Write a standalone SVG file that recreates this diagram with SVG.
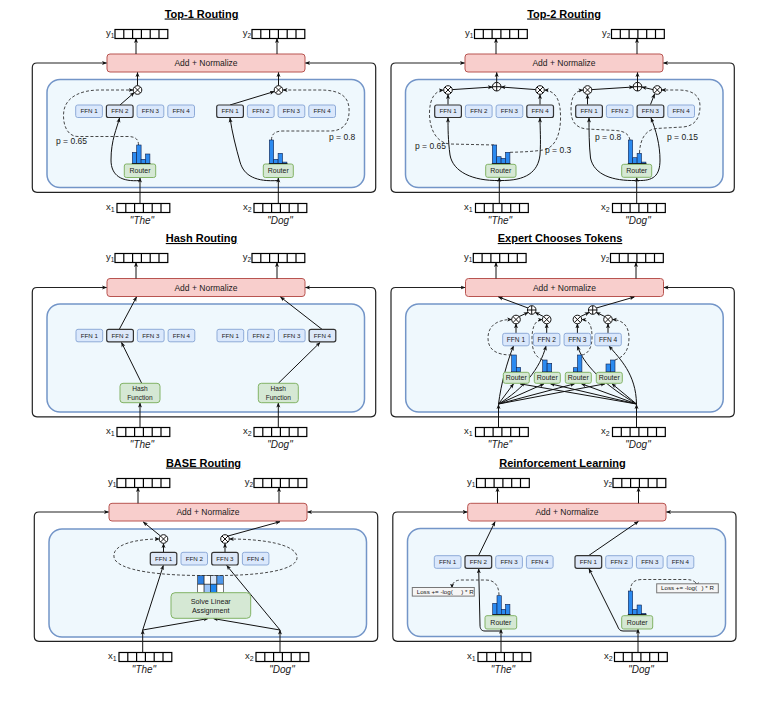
<svg xmlns="http://www.w3.org/2000/svg" xmlns:xlink="http://www.w3.org/1999/xlink" width="775" height="702" viewBox="0 0 775 702">
<style>
.tx{font-family:"Liberation Sans",Arial,sans-serif;fill:#1a1a1a}
.ttl{font-size:11px;font-weight:bold;text-decoration:underline;text-anchor:middle;fill:#000}
.an{font-size:8.5px;text-anchor:middle}
.f{font-size:6.2px;text-anchor:middle}
.r{font-size:7px;text-anchor:middle}
.p{font-size:8.5px}
.lb{font-size:9.5px}
.q{font-size:10px;font-style:italic;text-anchor:middle}
.ls{font-size:6.2px}
.anr{fill:#f8cecc;stroke:#b85450;stroke-width:1}
.inner{fill:#eff8fd;stroke:#7395c8;stroke-width:1.5}
.ffn{fill:#dae8fc;stroke:#8eabd8;stroke-width:1}
.ffs{fill:#dde8f8;stroke:#333;stroke-width:1.2}
.rt{fill:#d5e8d4;stroke:#82b366;stroke-width:1}
.loss{fill:#f5f5f5;stroke:#777;stroke-width:1}
.c{fill:none;stroke:#111;stroke-width:1}
.d{fill:none;stroke:#333;stroke-width:0.9;stroke-dasharray:3 2}
.loop{fill:none;stroke:#222;stroke-width:1.2}
.bar{fill:#2b8af0;stroke:#10204a;stroke-width:0.6}
.base{stroke:#111;stroke-width:0.8}
</style>
<defs>
<marker id="ah" viewBox="0 0 10 10" refX="9" refY="5" markerWidth="5" markerHeight="5" markerUnits="userSpaceOnUse" orient="auto"><path d="M0,1L10,5L0,9L2.5,5z" fill="#111"/></marker>
<g id="vec"><rect width="52.8" height="9" fill="#fff" stroke="#000" stroke-width="1.2"/><path d="M8.8,0v9M17.6,0v9M26.4,0v9M35.2,0v9M44,0v9" stroke="#000" stroke-width="1.2"/></g>
<g id="ot"><circle r="4.3" fill="#fff" stroke="#111" stroke-width="1"/><path d="M-3,-3L3,3M-3,3L3,-3" stroke="#111" stroke-width="1"/></g>
<g id="opl"><circle r="4.3" fill="#fff" stroke="#111" stroke-width="1"/><path d="M-4.3,0H4.3M0,-4.3V4.3" stroke="#111" stroke-width="1"/></g>
</defs>
<rect width="775" height="702" fill="#fff"/>

<!-- ============ Panel 1: Top-1 Routing ============ -->
<g id="p1" transform="translate(0,0)">
<g id="p1-title"><text class="tx ttl" x="201.5" y="17.5">Top-1 Routing</text></g>
<g id="p1-y1"><text class="tx lb" x="106" y="36">y<tspan font-size="6.5" dy="1.5">1</tspan></text><use href="#vec" x="115" y="29.5"/></g>
<g id="p1-y2"><text class="tx lb" x="242.7" y="36">y<tspan font-size="6.5" dy="1.5">2</tspan></text><use href="#vec" x="252" y="29.5"/></g>
<g id="p1-addnorm"><rect class="anr" x="107" y="54" width="198" height="18" rx="3"/><text class="tx an" x="206" y="66">Add + Normalize</text></g>
<g id="p1-moe"><rect class="inner" x="47" y="79.5" width="317.5" height="108" rx="13"/></g>
<g id="p1-x1"><text class="tx lb" x="106" y="210">x<tspan font-size="7" dy="2">1</tspan></text><use href="#vec" x="117" y="203.5"/><text class="tx q" x="142" y="224">"The"</text></g>
<g id="p1-x2"><text class="tx lb" x="243" y="210">x<tspan font-size="7" dy="2">2</tspan></text><use href="#vec" x="254" y="203.5"/><text class="tx q" x="280" y="224">"Dog"</text></g>
<g id="p1-connectors">
<path class="loop" d="M140,192.3H37Q32.3,192.3 32.3,187.6V67.7Q32.3,63 37,63H106.5" marker-end="url(#ah)"/>
<path class="loop" d="M278,192.3H371Q375.7,192.3 375.7,187.6V67.7Q375.7,63 371,63H305.5" marker-end="url(#ah)"/>
<path class="loop" d="M140,192.3H278"/>
<path class="c" d="M136,54V38.5" marker-end="url(#ah)"/>
<path class="c" d="M277,54V38.5" marker-end="url(#ah)"/>
<path class="c" d="M137.5,85.7V72.5" marker-end="url(#ah)"/>
<path class="c" d="M278.5,85.7V72.5" marker-end="url(#ah)"/>
<path class="c" d="M120,105L134.2,92.6" marker-end="url(#ah)"/>
<path class="c" d="M230,105L274.3,91.5" marker-end="url(#ah)"/>
<path class="c" d="M140,203.5V178" marker-end="url(#ah)"/>
<path class="c" d="M278.3,203.5V178" marker-end="url(#ah)"/>
<path class="c" d="M140,180.5C122,182 111,176 111,160C111,140 117,128 119.5,118" marker-end="url(#ah)"/>
<path class="c" d="M278.3,180.5C256,182 244,176 240,162C236,148 232,132 230,118" marker-end="url(#ah)"/>
<path class="d" d="M138.5,145C138.5,139 135,136.5 128,136.5L78,136.5C66,136.5 62,122 64,110C67,96 82,90 100,90L133,90" marker-end="url(#ah)"/>
<path class="d" d="M271.5,140C271.5,134 275,131 283,131L330,131C344,131 350,122 349,108C348,95 338,90 320,90L283,90" marker-end="url(#ah)"/>
</g>
<g id="p1-ffnL1"><rect class="ffn" x="75.7" y="105" width="26.7" height="12.5" rx="2"/><text class="tx f" x="89.05" y="113.4">FFN 1</text></g>
<g id="p1-ffnL2"><rect class="ffs" x="106.4" y="105" width="26.7" height="12.5" rx="2"/><text class="tx f" x="119.75" y="113.4">FFN 2</text></g>
<g id="p1-ffnL3"><rect class="ffn" x="137.1" y="105" width="26.7" height="12.5" rx="2"/><text class="tx f" x="150.45" y="113.4">FFN 3</text></g>
<g id="p1-ffnL4"><rect class="ffn" x="167.8" y="105" width="26.7" height="12.5" rx="2"/><text class="tx f" x="181.15" y="113.4">FFN 4</text></g>
<g id="p1-ffnR1"><rect class="ffs" x="216.7" y="105" width="26.7" height="12.5" rx="2"/><text class="tx f" x="230.05" y="113.4">FFN 1</text></g>
<g id="p1-ffnR2"><rect class="ffn" x="247.4" y="105" width="26.7" height="12.5" rx="2"/><text class="tx f" x="260.75" y="113.4">FFN 2</text></g>
<g id="p1-ffnR3"><rect class="ffn" x="278.1" y="105" width="26.7" height="12.5" rx="2"/><text class="tx f" x="291.45" y="113.4">FFN 3</text></g>
<g id="p1-ffnR4"><rect class="ffn" x="308.8" y="105" width="26.7" height="12.5" rx="2"/><text class="tx f" x="322.15" y="113.4">FFN 4</text></g>
<g id="p1-mulL"><use href="#ot" x="137.5" y="90"/></g>
<g id="p1-mulR"><use href="#ot" x="278.5" y="90"/></g>
<g id="p1-routerL"><rect class="rt" x="124.3" y="164" width="31.4" height="13.5" rx="2"/><text class="tx r" x="140" y="173.3">Router</text></g>
<g id="p1-routerR"><rect class="rt" x="263.3" y="164" width="30" height="13.5" rx="2"/><text class="tx r" x="278.3" y="173.3">Router</text></g>
<g id="p1-histL"><rect class="bar" x="132.3" y="152.3" width="4.4" height="11"/><rect class="bar" x="136.7" y="145" width="4.4" height="18.3"/><rect class="bar" x="141.1" y="159.3" width="4.4" height="4"/><rect class="bar" x="145.5" y="154" width="4.4" height="9.3"/><path class="base" d="M131.8,163.5H150.5"/></g>
<g id="p1-histR"><rect class="bar" x="269.3" y="140" width="4.4" height="23.3"/><rect class="bar" x="273.7" y="159.3" width="4.4" height="4"/><rect class="bar" x="278.1" y="153.3" width="4.4" height="10"/><rect class="bar" x="282.5" y="162.1" width="4.4" height="1.2"/><path class="base" d="M268.8,163.5H287.5"/></g>
<g id="p1-pL"><text class="tx p" x="56" y="144">p = 0.65</text></g>
<g id="p1-pR"><text class="tx p" x="329" y="139.5">p = 0.8</text></g>
</g>

<!-- ============ Panel 2: Top-2 Routing ============ -->
<g id="p2" transform="translate(358,0)">
<g id="p2-title"><text class="tx ttl" x="206" y="17.5">Top-2 Routing</text></g>
<g id="p2-y1"><text class="tx lb" x="107" y="36">y<tspan font-size="6.5" dy="1.5">1</tspan></text><use href="#vec" x="116.5" y="29.5"/></g>
<g id="p2-y2"><text class="tx lb" x="244" y="36">y<tspan font-size="6.5" dy="1.5">2</tspan></text><use href="#vec" x="253.5" y="29.5"/></g>
<g id="p2-addnorm"><rect class="anr" x="107" y="54" width="198" height="18" rx="3"/><text class="tx an" x="206" y="66">Add + Normalize</text></g>
<g id="p2-moe"><rect class="inner" x="47.5" y="79.5" width="317.5" height="108" rx="13"/></g>
<g id="p2-x1"><text class="tx lb" x="106" y="210">x<tspan font-size="7" dy="2">1</tspan></text><use href="#vec" x="117.5" y="203.5"/><text class="tx q" x="142" y="224">"The"</text></g>
<g id="p2-x2"><text class="tx lb" x="243" y="210">x<tspan font-size="7" dy="2">2</tspan></text><use href="#vec" x="254.5" y="203.5"/><text class="tx q" x="280" y="224">"Dog"</text></g>
<g id="p2-connectors">
<path class="loop" d="M141.3,192.3H37.7Q33,192.3 33,187.6V67.7Q33,63 37.7,63H106.5" marker-end="url(#ah)"/>
<path class="loop" d="M278.7,192.3H371.6Q376.3,192.3 376.3,187.6V67.7Q376.3,63 371.6,63H305.5" marker-end="url(#ah)"/>
<path class="loop" d="M141.3,192.3H278.7"/>
<path class="c" d="M138,54V38.5" marker-end="url(#ah)"/>
<path class="c" d="M279,54V38.5" marker-end="url(#ah)"/>
<path class="c" d="M90,104.5V94.5" marker-end="url(#ah)"/>
<path class="c" d="M182,104.5V94.5" marker-end="url(#ah)"/>
<path class="c" d="M94.3,89.6L134.4,87" marker-end="url(#ah)"/>
<path class="c" d="M177.7,89.6L143,87" marker-end="url(#ah)"/>
<path class="c" d="M138.7,82.4V72.5" marker-end="url(#ah)"/>
<path class="c" d="M229.5,104.5V94.5" marker-end="url(#ah)"/>
<path class="c" d="M292.5,104.5L296.6,94" marker-end="url(#ah)"/>
<path class="c" d="M233.8,89.6L275.4,87" marker-end="url(#ah)"/>
<path class="c" d="M295,89.6L284,87" marker-end="url(#ah)"/>
<path class="c" d="M279.5,82.4V72.5" marker-end="url(#ah)"/>
<path class="c" d="M141.3,203.5V177.5" marker-end="url(#ah)"/>
<path class="c" d="M278.7,203.5V177.5" marker-end="url(#ah)"/>
<path class="c" d="M141,180.5C115,181 95,172 92,155C90,140 90,128 90,118" marker-end="url(#ah)"/>
<path class="c" d="M142,180.5C168,181 180,172 182,155C183,140 182,128 182,118" marker-end="url(#ah)"/>
<path class="c" d="M277.5,180.5C255,181 236,175 232.5,158C231,145 231,130 231,118" marker-end="url(#ah)"/>
<path class="c" d="M280,180.5C295,181 302,176 302,160C302,145 298,130 293,118" marker-end="url(#ah)"/>
<path class="d" d="M136,145L92,144C78,143 71,128 71.5,112C72,98 77,91 85.5,90" marker-end="url(#ah)"/>
<path class="d" d="M152,152.3C165,152 175,151.5 185,150C197,148 202,135 202.5,120C203,102 199,91 186.3,90" marker-end="url(#ah)"/>
<path class="d" d="M272,140C271,134 266,131 258,130.5L229,129C218,128 213,122 213,110C213,98 216,91 225,90" marker-end="url(#ah)"/>
<path class="d" d="M281.5,153C282,140 287,130 298,128.5L325,127C337,126 342,118 342,106C342,95 334,90 320,90L303.6,90" marker-end="url(#ah)"/>
</g>
<g id="p2-ffnL1"><rect class="ffs" x="76.7" y="105" width="26.7" height="12.5" rx="2"/><text class="tx f" x="90.05" y="113.4">FFN 1</text></g>
<g id="p2-ffnL2"><rect class="ffn" x="107.4" y="105" width="26.7" height="12.5" rx="2"/><text class="tx f" x="120.75" y="113.4">FFN 2</text></g>
<g id="p2-ffnL3"><rect class="ffn" x="138.1" y="105" width="26.7" height="12.5" rx="2"/><text class="tx f" x="151.45" y="113.4">FFN 3</text></g>
<g id="p2-ffnL4"><rect class="ffs" x="168.8" y="105" width="26.7" height="12.5" rx="2"/><text class="tx f" x="182.15" y="113.4">FFN 4</text></g>
<g id="p2-ffnR1"><rect class="ffs" x="217.7" y="105" width="26.7" height="12.5" rx="2"/><text class="tx f" x="231.05" y="113.4">FFN 1</text></g>
<g id="p2-ffnR2"><rect class="ffn" x="248.4" y="105" width="26.7" height="12.5" rx="2"/><text class="tx f" x="261.75" y="113.4">FFN 2</text></g>
<g id="p2-ffnR3"><rect class="ffs" x="279.1" y="105" width="26.7" height="12.5" rx="2"/><text class="tx f" x="292.45" y="113.4">FFN 3</text></g>
<g id="p2-ffnR4"><rect class="ffn" x="309.8" y="105" width="26.7" height="12.5" rx="2"/><text class="tx f" x="323.15" y="113.4">FFN 4</text></g>
<g id="p2-mulL1"><use href="#ot" x="90" y="90"/></g>
<g id="p2-mulL2"><use href="#ot" x="182" y="90"/></g>
<g id="p2-sumL"><use href="#opl" x="138.7" y="86.7"/></g>
<g id="p2-mulR1"><use href="#ot" x="229.5" y="90"/></g>
<g id="p2-mulR2"><use href="#ot" x="299.3" y="90"/></g>
<g id="p2-sumR"><use href="#opl" x="279.5" y="86.7"/></g>
<g id="p2-routerL"><rect class="rt" x="127.7" y="164.3" width="30.3" height="13" rx="2"/><text class="tx r" x="142.8" y="173.3">Router</text></g>
<g id="p2-routerR"><rect class="rt" x="263.7" y="164.3" width="30" height="13" rx="2"/><text class="tx r" x="278.7" y="173.3">Router</text></g>
<g id="p2-histL"><rect class="bar" x="134.3" y="145" width="4.4" height="18.3"/><rect class="bar" x="138.7" y="156.7" width="4.4" height="6.6"/><rect class="bar" x="143.1" y="158.3" width="4.4" height="5"/><rect class="bar" x="147.5" y="152.3" width="4.4" height="11"/><path class="base" d="M133.8,163.5H152.5"/></g>
<g id="p2-histR"><rect class="bar" x="270.3" y="140" width="4.4" height="23.3"/><rect class="bar" x="274.7" y="157.7" width="4.4" height="5.6"/><rect class="bar" x="279.1" y="153.3" width="4.4" height="10"/><rect class="bar" x="283.5" y="162.1" width="4.4" height="1.2"/><path class="base" d="M269.8,163.5H288.5"/></g>
<g id="p2-pL1"><text class="tx p" x="57" y="148.5">p = 0.65</text></g>
<g id="p2-pL2"><text class="tx p" x="187" y="153">p = 0.3</text></g>
<g id="p2-pR1"><text class="tx p" x="237" y="139.5">p = 0.8</text></g>
<g id="p2-pR2"><text class="tx p" x="309" y="139.5">p = 0.15</text></g>
</g>

<!-- ============ Panel 3: Hash Routing ============ -->
<g id="p3" transform="translate(0,224)">
<g id="p3-title"><text class="tx ttl" x="201.5" y="18">Hash Routing</text></g>
<g id="p3-y1"><text class="tx lb" x="106" y="36">y<tspan font-size="6.5" dy="1.5">1</tspan></text><use href="#vec" x="115" y="29.5"/></g>
<g id="p3-y2"><text class="tx lb" x="242.7" y="36">y<tspan font-size="6.5" dy="1.5">2</tspan></text><use href="#vec" x="252" y="29.5"/></g>
<g id="p3-addnorm"><rect class="anr" x="107" y="54.5" width="198" height="18" rx="3"/><text class="tx an" x="206" y="66.5">Add + Normalize</text></g>
<g id="p3-moe"><rect class="inner" x="47" y="80" width="317.5" height="108" rx="13"/></g>
<g id="p3-x1"><text class="tx lb" x="106" y="210">x<tspan font-size="7" dy="2">1</tspan></text><use href="#vec" x="117" y="203.5"/><text class="tx q" x="142" y="224">"The"</text></g>
<g id="p3-x2"><text class="tx lb" x="243" y="210">x<tspan font-size="7" dy="2">2</tspan></text><use href="#vec" x="254" y="203.5"/><text class="tx q" x="280" y="224">"Dog"</text></g>
<g id="p3-connectors">
<path class="loop" d="M140,192.8H37Q32.3,192.8 32.3,188.1V68.2Q32.3,63.5 37,63.5H106.5" marker-end="url(#ah)"/>
<path class="loop" d="M278.3,192.8H371Q375.7,192.8 375.7,188.1V68.2Q375.7,63.5 371,63.5H305.5" marker-end="url(#ah)"/>
<path class="loop" d="M140,192.8H278.3"/>
<path class="c" d="M136,54.5V38.5" marker-end="url(#ah)"/>
<path class="c" d="M277,54.5V38.5" marker-end="url(#ah)"/>
<path class="c" d="M140,203.5V179" marker-end="url(#ah)"/>
<path class="c" d="M278.3,203.5V179" marker-end="url(#ah)"/>
<path class="c" d="M141.7,159.3L121.5,118.5" marker-end="url(#ah)"/>
<path class="c" d="M278.3,159.3L320,118.5" marker-end="url(#ah)"/>
<path class="c" d="M119.3,105.3L136.5,73" marker-end="url(#ah)"/>
<path class="c" d="M322,105.3L280.5,73" marker-end="url(#ah)"/>
</g>
<g id="p3-ffnL1"><rect class="ffn" x="76" y="105.3" width="26.7" height="12.5" rx="2"/><text class="tx f" x="89.35" y="113.7">FFN 1</text></g>
<g id="p3-ffnL2"><rect class="ffs" x="106.7" y="105.3" width="26.7" height="12.5" rx="2"/><text class="tx f" x="120.05" y="113.7">FFN 2</text></g>
<g id="p3-ffnL3"><rect class="ffn" x="137.4" y="105.3" width="26.7" height="12.5" rx="2"/><text class="tx f" x="150.75" y="113.7">FFN 3</text></g>
<g id="p3-ffnL4"><rect class="ffn" x="168.1" y="105.3" width="26.7" height="12.5" rx="2"/><text class="tx f" x="181.45" y="113.7">FFN 4</text></g>
<g id="p3-ffnR1"><rect class="ffn" x="217" y="105.3" width="26.7" height="12.5" rx="2"/><text class="tx f" x="230.35" y="113.7">FFN 1</text></g>
<g id="p3-ffnR2"><rect class="ffn" x="247.7" y="105.3" width="26.7" height="12.5" rx="2"/><text class="tx f" x="261.05" y="113.7">FFN 2</text></g>
<g id="p3-ffnR3"><rect class="ffn" x="278.4" y="105.3" width="26.7" height="12.5" rx="2"/><text class="tx f" x="291.75" y="113.7">FFN 3</text></g>
<g id="p3-ffnR4"><rect class="ffs" x="309.1" y="105.3" width="26.7" height="12.5" rx="2"/><text class="tx f" x="322.45" y="113.7">FFN 4</text></g>
<g id="p3-hashL"><rect class="rt" x="120" y="159.3" width="40" height="19.4" rx="3"/><text class="tx r" x="140" y="166.7" style="font-size:6.6px">Hash</text><text class="tx r" x="140" y="175.6" style="font-size:6.6px">Function</text></g>
<g id="p3-hashR"><rect class="rt" x="258.3" y="159.3" width="40" height="19.4" rx="3"/><text class="tx r" x="278.3" y="166.7" style="font-size:6.6px">Hash</text><text class="tx r" x="278.3" y="175.6" style="font-size:6.6px">Function</text></g>
</g>

<!-- ============ Panel 4: Expert Chooses Tokens ============ -->
<g id="p4" transform="translate(358,224)">
<g id="p4-title"><text class="tx ttl" x="202" y="18">Expert Chooses Tokens</text></g>
<g id="p4-y1"><text class="tx lb" x="106" y="36">y<tspan font-size="6.5" dy="1.5">1</tspan></text><use href="#vec" x="115.3" y="29.5"/></g>
<g id="p4-y2"><text class="tx lb" x="243" y="36">y<tspan font-size="6.5" dy="1.5">2</tspan></text><use href="#vec" x="252.5" y="29.5"/></g>
<g id="p4-addnorm"><rect class="anr" x="107.5" y="54.5" width="198" height="18" rx="3"/><text class="tx an" x="206.5" y="66.5">Add + Normalize</text></g>
<g id="p4-moe"><rect class="inner" x="47.7" y="80" width="317.5" height="108" rx="13"/></g>
<g id="p4-x1"><text class="tx lb" x="106" y="210">x<tspan font-size="7" dy="2">1</tspan></text><use href="#vec" x="117.5" y="203.5"/><text class="tx q" x="142" y="224">"The"</text></g>
<g id="p4-x2"><text class="tx lb" x="243" y="210">x<tspan font-size="7" dy="2">2</tspan></text><use href="#vec" x="254.5" y="203.5"/><text class="tx q" x="280" y="224">"Dog"</text></g>
<g id="p4-connectors">
<path class="loop" d="M140.5,192.8H37.7Q33,192.8 33,188.1V68.2Q33,63.5 37.7,63.5H107" marker-end="url(#ah)"/>
<path class="loop" d="M278.5,192.8H371.6Q376.3,192.8 376.3,188.1V68.2Q376.3,63.5 371.6,63.5H306" marker-end="url(#ah)"/>
<path class="loop" d="M140.5,192.8H278.5"/>
<path class="c" d="M138,54.5V38.5" marker-end="url(#ah)"/>
<path class="c" d="M278,54.5V38.5" marker-end="url(#ah)"/>
<path class="c" d="M158,109.3V99.8" marker-end="url(#ah)"/>
<path class="c" d="M188.7,109.3V99.8" marker-end="url(#ah)"/>
<path class="c" d="M219.4,109.3V99.8" marker-end="url(#ah)"/>
<path class="c" d="M250,109.3V99.8" marker-end="url(#ah)"/>
<path class="c" d="M161,92.6L170.2,88.4" marker-end="url(#ah)"/>
<path class="c" d="M185.7,92.6L177.2,88.4" marker-end="url(#ah)"/>
<path class="c" d="M222.4,92.6L231.2,88.4" marker-end="url(#ah)"/>
<path class="c" d="M247,92.6L238.2,88.4" marker-end="url(#ah)"/>
<path class="c" d="M170,84L140.5,73" marker-end="url(#ah)"/>
<path class="c" d="M238.4,84L276.3,73" marker-end="url(#ah)"/>
<path class="c" d="M140.5,203.5V180.5" marker-end="url(#ah)"/>
<path class="c" d="M278.5,203.5V180.5" marker-end="url(#ah)"/>
<path class="c" d="M140.5,180L155.5,159.8" marker-end="url(#ah)"/>
<path class="c" d="M140.5,180L186,159.8" marker-end="url(#ah)"/>
<path class="c" d="M140.5,180L216.5,159.8" marker-end="url(#ah)"/>
<path class="c" d="M140.5,180L247,159.8" marker-end="url(#ah)"/>
<path class="c" d="M278.5,180L162,159.8" marker-end="url(#ah)"/>
<path class="c" d="M278.5,180L192.5,159.8" marker-end="url(#ah)"/>
<path class="c" d="M278.5,180L223.5,159.8" marker-end="url(#ah)"/>
<path class="c" d="M278.5,180L254,159.8" marker-end="url(#ah)"/>
<path class="c" d="M140.5,180C143,160 149,138 155.5,122" marker-end="url(#ah)"/>
<path class="c" d="M140.5,180C165,165 182,145 188,122" marker-end="url(#ah)"/>
<path class="c" d="M278.5,180C245,160 225,140 219.5,122" marker-end="url(#ah)"/>
<path class="c" d="M278.5,180C278,150 262,135 251,122" marker-end="url(#ah)"/>
<path class="d" d="M153.7,131C140,131 130,127 130,114C130,101 140,95.5 153.7,95.5" marker-end="url(#ah)"/>
<path class="d" d="M184.7,136C177,133 174,126 174,115C174,103 177,96 184.4,95.5" marker-end="url(#ah)"/>
<path class="d" d="M224,131C230,130 234,124 234,113C234,101 231,96 223.7,95.5" marker-end="url(#ah)"/>
<path class="d" d="M257,136C266,133 271,126 271,114C271,102 265,96 254.3,95.5" marker-end="url(#ah)"/>
</g>
<g id="p4-ffn1"><rect class="ffn" x="144.7" y="109.3" width="26.5" height="12.5" rx="2"/><text class="tx f" x="157.95" y="117.9" style="font-size:6.6px">FFN 1</text></g>
<g id="p4-ffn2"><rect class="ffn" x="175.4" y="109.3" width="26.5" height="12.5" rx="2"/><text class="tx f" x="188.65" y="117.9" style="font-size:6.6px">FFN 2</text></g>
<g id="p4-ffn3"><rect class="ffn" x="206.1" y="109.3" width="26.5" height="12.5" rx="2"/><text class="tx f" x="219.35" y="117.9" style="font-size:6.6px">FFN 3</text></g>
<g id="p4-ffn4"><rect class="ffn" x="236.8" y="109.3" width="26.5" height="12.5" rx="2"/><text class="tx f" x="250.05" y="117.9" style="font-size:6.6px">FFN 4</text></g>
<g id="p4-mul1"><use href="#ot" x="158" y="95.5"/></g>
<g id="p4-mul2"><use href="#ot" x="188.7" y="95.5"/></g>
<g id="p4-mul3"><use href="#ot" x="219.4" y="95.5"/></g>
<g id="p4-mul4"><use href="#ot" x="250" y="95.5"/></g>
<g id="p4-sumL"><use href="#opl" x="173.7" y="86"/></g>
<g id="p4-sumR"><use href="#opl" x="234.7" y="86"/></g>
<g id="p4-router1"><rect class="rt" x="145.3" y="148.3" width="26" height="11" rx="2"/><text class="tx r" x="158.3" y="156.4">Router</text></g>
<g id="p4-router2"><rect class="rt" x="176.3" y="148.3" width="26" height="11" rx="2"/><text class="tx r" x="189.3" y="156.4">Router</text></g>
<g id="p4-router3"><rect class="rt" x="207.3" y="148.3" width="26" height="11" rx="2"/><text class="tx r" x="220.3" y="156.4">Router</text></g>
<g id="p4-router4"><rect class="rt" x="238.3" y="148.3" width="26" height="11" rx="2"/><text class="tx r" x="251.3" y="156.4">Router</text></g>
<g id="p4-hist1"><rect class="bar" x="153.7" y="131" width="4.6" height="16.7"/><rect class="bar" x="158.3" y="143.3" width="4.4" height="4.4"/></g>
<g id="p4-hist2"><rect class="bar" x="184.7" y="136" width="4.4" height="11.7"/><rect class="bar" x="189.1" y="139.3" width="4.6" height="8.4"/></g>
<g id="p4-hist3"><rect class="bar" x="215.3" y="143.7" width="4.2" height="4"/><rect class="bar" x="219.5" y="131" width="4.4" height="16.7"/></g>
<g id="p4-hist4"><rect class="bar" x="248" y="140" width="4.6" height="7.7"/><rect class="bar" x="252.6" y="136" width="4.4" height="11.7"/></g>
</g>

<!-- ============ Panel 5: BASE Routing ============ -->
<g id="p5" transform="translate(2,449)">
<g id="p5-title"><text class="tx ttl" x="201.5" y="17.5">BASE Routing</text></g>
<g id="p5-y1"><text class="tx lb" x="106" y="36">y<tspan font-size="6.5" dy="1.5">1</tspan></text><use href="#vec" x="115" y="29.5"/></g>
<g id="p5-y2"><text class="tx lb" x="242.7" y="36">y<tspan font-size="6.5" dy="1.5">2</tspan></text><use href="#vec" x="252" y="29.5"/></g>
<g id="p5-addnorm"><rect class="anr" x="107" y="54.3" width="198" height="17.7" rx="3"/><text class="tx an" x="206" y="66.2">Add + Normalize</text></g>
<g id="p5-moe"><rect class="inner" x="47" y="80" width="317.5" height="108" rx="13"/></g>
<g id="p5-x1"><text class="tx lb" x="106" y="210">x<tspan font-size="7" dy="2">1</tspan></text><use href="#vec" x="117" y="203.5"/><text class="tx q" x="142" y="224">"The"</text></g>
<g id="p5-x2"><text class="tx lb" x="243" y="210">x<tspan font-size="7" dy="2">2</tspan></text><use href="#vec" x="254" y="203.5"/><text class="tx q" x="280" y="224">"Dog"</text></g>
<g id="p5-connectors">
<path class="loop" d="M140.7,192.3H37Q32.3,192.3 32.3,187.6V67.7Q32.3,63 37,63H106.5" marker-end="url(#ah)"/>
<path class="loop" d="M278,192.3H371Q375.7,192.3 375.7,187.6V67.7Q375.7,63 371,63H305.5" marker-end="url(#ah)"/>
<path class="loop" d="M140.7,192.3H278"/>
<path class="c" d="M136,54.3V38.5" marker-end="url(#ah)"/>
<path class="c" d="M277,54.3V38.5" marker-end="url(#ah)"/>
<path class="c" d="M161.5,103.3V94.5" marker-end="url(#ah)"/>
<path class="c" d="M223,103.3V94.5" marker-end="url(#ah)"/>
<path class="c" d="M158.5,87L141.3,73" marker-end="url(#ah)"/>
<path class="c" d="M226,87L278,72.7" marker-end="url(#ah)"/>
<path class="c" d="M140.7,203.5V181" marker-end="url(#ah)"/>
<path class="c" d="M278,203.5V181" marker-end="url(#ah)"/>
<path class="c" d="M140.7,181L161.3,116.5" marker-end="url(#ah)"/>
<path class="c" d="M140.7,181L206,169.6" marker-end="url(#ah)"/>
<path class="c" d="M278,181L224.7,116.5" marker-end="url(#ah)"/>
<path class="c" d="M278,181L211.5,169.6" marker-end="url(#ah)"/>
<path class="d" d="M208,126.5C160,127 114,122 112,108C110,95 135,90 157.2,90" marker-end="url(#ah)"/>
<path class="d" d="M208,126.5C255,127 296,122 295,108C294,95 260,90 227.3,90" marker-end="url(#ah)"/>
</g>
<g id="p5-ffn1"><rect class="ffs" x="148.3" y="103.3" width="26.5" height="12.7" rx="2"/><text class="tx f" x="161.55" y="111.9">FFN 1</text></g>
<g id="p5-ffn2"><rect class="ffn" x="179" y="103.3" width="26.5" height="12.7" rx="2"/><text class="tx f" x="192.25" y="111.9">FFN 2</text></g>
<g id="p5-ffn3"><rect class="ffs" x="209.7" y="103.3" width="26.5" height="12.7" rx="2"/><text class="tx f" x="222.95" y="111.9">FFN 3</text></g>
<g id="p5-ffn4"><rect class="ffn" x="240.4" y="103.3" width="26.5" height="12.7" rx="2"/><text class="tx f" x="253.65" y="111.9">FFN 4</text></g>
<g id="p5-mul1"><use href="#ot" x="161.5" y="90"/></g>
<g id="p5-mul2"><use href="#ot" x="223" y="90"/></g>
<g id="p5-matrix" stroke="#222" stroke-width="0.6">
<rect x="195.7" y="126.7" width="6.4" height="8.5" fill="#2f7fe0"/>
<rect x="202.1" y="126.7" width="6.4" height="8.5" fill="#ffffff"/>
<rect x="208.5" y="126.7" width="6.4" height="8.5" fill="#d6e6fb"/>
<rect x="214.9" y="126.7" width="6.4" height="8.5" fill="#4f97ea"/>
<rect x="195.7" y="135.2" width="6.4" height="8.5" fill="#ffffff"/>
<rect x="202.1" y="135.2" width="6.4" height="8.5" fill="#9cc4f6"/>
<rect x="208.5" y="135.2" width="6.4" height="8.5" fill="#1f86ef"/>
<rect x="214.9" y="135.2" width="6.4" height="8.5" fill="#ffffff"/>
</g>
<g id="p5-sla"><rect class="rt" x="169" y="143.7" width="79.7" height="25.6" rx="4"/><text class="tx r" x="208.8" y="155.3" style="font-size:7.2px">Solve Linear</text><text class="tx r" x="208.8" y="164" style="font-size:7.2px">Assignment</text></g>
</g>

<!-- ============ Panel 6: Reinforcement Learning ============ -->
<g id="p6" transform="translate(361,449)">
<g id="p6-title"><text class="tx ttl" x="201.5" y="17.5">Reinforcement Learning</text></g>
<g id="p6-y1"><text class="tx lb" x="106" y="36">y<tspan font-size="6.5" dy="1.5">1</tspan></text><use href="#vec" x="115.5" y="29.5"/></g>
<g id="p6-y2"><text class="tx lb" x="242.7" y="36">y<tspan font-size="6.5" dy="1.5">2</tspan></text><use href="#vec" x="252" y="29.5"/></g>
<g id="p6-addnorm"><rect class="anr" x="106.7" y="54.3" width="198.3" height="17.7" rx="3"/><text class="tx an" x="206" y="66.2">Add + Normalize</text></g>
<g id="p6-moe"><rect class="inner" x="46.5" y="79.5" width="318" height="108" rx="13"/></g>
<g id="p6-x1"><text class="tx lb" x="106" y="210">x<tspan font-size="7" dy="2">1</tspan></text><use href="#vec" x="117" y="203.5"/><text class="tx q" x="142" y="224">"The"</text></g>
<g id="p6-x2"><text class="tx lb" x="243" y="210">x<tspan font-size="7" dy="2">2</tspan></text><use href="#vec" x="253.5" y="203.5"/><text class="tx q" x="280" y="224">"Dog"</text></g>
<g id="p6-connectors">
<path class="loop" d="M140,192.3H36.5Q31.8,192.3 31.8,187.6V67.7Q31.8,63 36.5,63H106.2" marker-end="url(#ah)"/>
<path class="loop" d="M277,192.3H370.3Q375,192.3 375,187.6V67.7Q375,63 370.3,63H305.5" marker-end="url(#ah)"/>
<path class="loop" d="M140,192.3H277"/>
<path class="c" d="M136.5,54.3V38.5" marker-end="url(#ah)"/>
<path class="c" d="M277.5,54.3V38.5" marker-end="url(#ah)"/>
<path class="c" d="M117.5,106.7L134,72.8" marker-end="url(#ah)"/>
<path class="c" d="M227.5,106.7L277.3,72.5" marker-end="url(#ah)"/>
<path class="c" d="M140,203.5V180.3" marker-end="url(#ah)"/>
<path class="c" d="M277,203.5V180.3" marker-end="url(#ah)"/>
<path class="c" d="M139.5,182L124,182C120.5,182 119,180 119,176L117.7,119.8" marker-end="url(#ah)"/>
<path class="c" d="M277,182L262,182C259,182 257.5,180 256.5,177L228,119.8" marker-end="url(#ah)"/>
<path class="d" d="M138,146.5C138,136 133,131 125,131L100,131C94,131 91,134 91,139" marker-end="url(#ah)"/>
<path class="d" d="M269.5,142C269.5,135 272,131 280,130.5L325,130.5C332,130.5 336,133 336,137.8" marker-end="url(#ah)"/>
</g>
<g id="p6-ffnL1"><rect class="ffn" x="73.3" y="106.7" width="26.7" height="12.6" rx="2"/><text class="tx f" x="86.65" y="115.2">FFN 1</text></g>
<g id="p6-ffnL2"><rect class="ffs" x="104" y="106.7" width="26.7" height="12.6" rx="2"/><text class="tx f" x="117.35" y="115.2">FFN 2</text></g>
<g id="p6-ffnL3"><rect class="ffn" x="134.7" y="106.7" width="26.7" height="12.6" rx="2"/><text class="tx f" x="148.05" y="115.2">FFN 3</text></g>
<g id="p6-ffnL4"><rect class="ffn" x="165.4" y="106.7" width="26.7" height="12.6" rx="2"/><text class="tx f" x="178.75" y="115.2">FFN 4</text></g>
<g id="p6-ffnR1"><rect class="ffs" x="214" y="106.7" width="26.7" height="12.6" rx="2"/><text class="tx f" x="227.35" y="115.2">FFN 1</text></g>
<g id="p6-ffnR2"><rect class="ffn" x="244.7" y="106.7" width="26.7" height="12.6" rx="2"/><text class="tx f" x="258.05" y="115.2">FFN 2</text></g>
<g id="p6-ffnR3"><rect class="ffn" x="275.4" y="106.7" width="26.7" height="12.6" rx="2"/><text class="tx f" x="288.75" y="115.2">FFN 3</text></g>
<g id="p6-ffnR4"><rect class="ffn" x="306.1" y="106.7" width="26.7" height="12.6" rx="2"/><text class="tx f" x="319.45" y="115.2">FFN 4</text></g>
<g id="p6-routerL"><rect class="rt" x="124" y="166.7" width="31.7" height="13.3" rx="2"/><text class="tx r" x="139.85" y="175.9">Router</text></g>
<g id="p6-routerR"><rect class="rt" x="260.7" y="166.7" width="31" height="13.3" rx="2"/><text class="tx r" x="276.2" y="175.9">Router</text></g>
<g id="p6-histL"><rect class="bar" x="131.7" y="154.3" width="4.3" height="11"/><rect class="bar" x="136" y="146.7" width="4.3" height="18.6"/><rect class="bar" x="140.3" y="160.3" width="4.3" height="5"/><rect class="bar" x="144.6" y="155.3" width="4.3" height="10"/><path class="base" d="M131.2,165.5H149.5"/></g>
<g id="p6-histR"><rect class="bar" x="267.3" y="142" width="4.4" height="23.3"/><rect class="bar" x="271.7" y="160.3" width="4.4" height="5"/><rect class="bar" x="276.1" y="156" width="4.4" height="9.3"/><rect class="bar" x="280.5" y="164.3" width="4.4" height="1"/><path class="base" d="M266.8,165.5H285.5"/></g>
<g id="p6-lossL"><rect class="loss" x="51.3" y="138.5" width="62" height="8.6"/><text class="tx ls"><tspan x="55.7" y="144.9">Loss += -log(</tspan><tspan x="100.3" y="144.9">) * R</tspan></text></g>
<g id="p6-lossR"><rect class="loss" x="295.7" y="134.8" width="61.6" height="9"/><text class="tx ls"><tspan x="300" y="141.4">Loss += -log(</tspan><tspan x="340.5" y="141.4">) * R</tspan></text></g>
</g>
</svg>
